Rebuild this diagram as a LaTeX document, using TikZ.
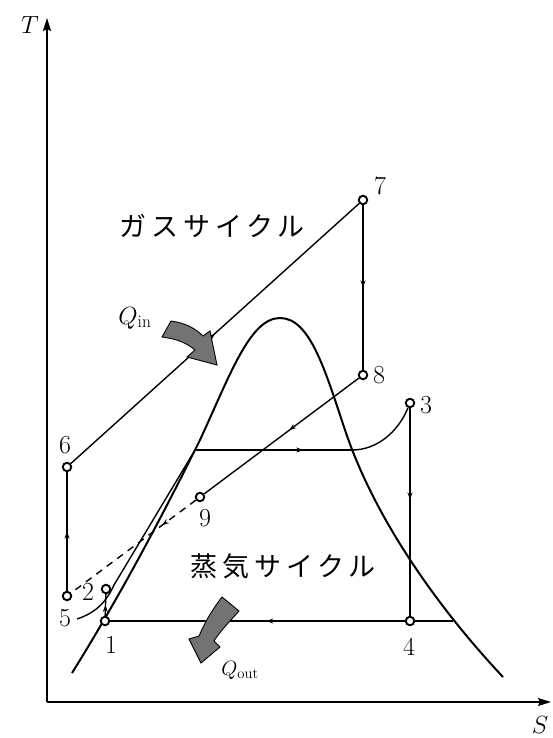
\documentclass[tikz,border=0pt]{standalone}
\usepackage{fontspec}
\newfontfamily\jpfont{Noto Sans CJK JP}[LetterSpace=18]
\usetikzlibrary{arrows.meta,calc,decorations.markings}
\tikzset{
  dome/.style={line width=2pt},
  cyc/.style={line width=1.4pt},
  evap/.style={line width=2.6pt},
  axl/.style={line width=1.6pt, -{Stealth[length=13pt,width=8pt,inset=2pt]}},
  st/.style={circle, draw, fill=white, line width=1.9pt, inner sep=0pt, minimum size=8.5pt},
  num/.style={font=\fontsize{26}{26}\selectfont, inner sep=1pt},
  jp/.style={font=\jpfont\fontsize{27}{27}\selectfont, inner sep=0pt},
  heat/.style={draw=black, line width=0.9pt, fill=black!55},
  marr/.style={postaction={decorate}, decoration={markings, mark=at position #1 with {\arrow{Stealth[length=7pt,width=5pt]}}}},
  marr/.default=0.5,
}

\begin{document}
\begin{tikzpicture}[x=1pt, y=-1pt]
\useasboundingbox (0,0) rectangle (552,738);
% axes
\coordinate (o) at (47,702);
\coordinate (ytop) at (47,18);
\coordinate (xend) at (551,702);
\draw[axl] (o) -- (ytop);
\draw[axl] (o) -- (xend);
\node[font=\fontsize{27}{27}\selectfont] (T) at (30,25) {$T$};
\node[font=\fontsize{27}{27}\selectfont] (S) at (540,725) {$S$};
% saturation dome
\draw[dome] (72,673) .. controls (130,580) and (175,490) .. (200,440)
  .. controls (230,375) and (250,318) .. (280,318)
  .. controls (310,318) and (325,370) .. (345,430)
  .. controls (375,520) and (440,610) .. (503,677);
% states
\node[st] (p1) at (105,621) {};
\node[st] (p2) at (106,589) {};
\node[st] (p3) at (410,403) {};
\node[st] (p4) at (410,621) {};
\node[st] (p5) at (67,596) {};
\node[st] (p6) at (67,467) {};
\node[st] (p7) at (363,200) {};
\node[st] (p8) at (363,375) {};
\node[st] (p9) at (200,497) {};
\coordinate (sl) at (195,450);
\coordinate (sv) at (352,450);
\coordinate (wet) at (453,621);
\coordinate (lq) at (77,619);
% gas cycle
\draw[cyc, marr] (p5) -- (p6);
\draw[cyc, marr] (p6) -- (p7);
\draw[cyc, marr] (p7) -- (p8);
\draw[cyc, marr=0.45] (p8) -- (p9);
\draw[cyc, dashed, dash pattern=on 7pt off 6pt, marr=0.27] (p9) -- (p5);
% steam cycle
\draw[cyc, marr] (p1) -- (p2);
\draw[cyc] (lq) .. controls (98,612) and (107,600) .. (114,585) -- (sl);
\draw[evap, marr=0.69] (sl) -- (sv);
\draw[cyc] (sv) .. controls (377,450) and (398,432) .. (p3);
\draw[cyc, marr=0.44] (p3) -- (p4);
\draw[cyc] (wet) -- (p4);
\draw[cyc, marr=0.47] (p4) -- (p1);
% labels
\node[num] (n1) at (111,645) {1};
\node[num] (n2) at (88,592) {2};
\node[num] (n3) at (426,405) {3};
\node[num] (n4) at (409,647) {4};
\node[num] (n5) at (65,618) {5};
\node[num] (n6) at (65,445) {6};
\node[num] (n7) at (380,186) {7};
\node[num] (n8) at (379,375) {8};
\node[num] (n9) at (205,518) {9};
\node[jp] (gas) at (212,226) {ガスサイクル};
\node[jp] (steam) at (283,566) {蒸気サイクル};
% heat in / out
\draw[heat] (162,337) -- (171,321) .. controls (186,323) and (196,329) .. (203,336) -- (210,331) -- (217,365) -- (187,357) -- (195,350) .. controls (187,343) and (177,339) .. cycle;
\node[font=\fontsize{25}{25}\selectfont] (qin) at (135,318) {$Q_{\mathrm{in}}$};
\draw[heat] (222,597) -- (239,611) .. controls (231,620) and (221,630) .. (214,641) -- (220,647) -- (201,663) -- (189,639) -- (199,636) .. controls (205,622) and (212,610) .. cycle;
\node[font=\fontsize{21}{21}\selectfont] (qout) at (240,670) {$Q_{\mathrm{out}}$};
\end{tikzpicture}
\end{document}
